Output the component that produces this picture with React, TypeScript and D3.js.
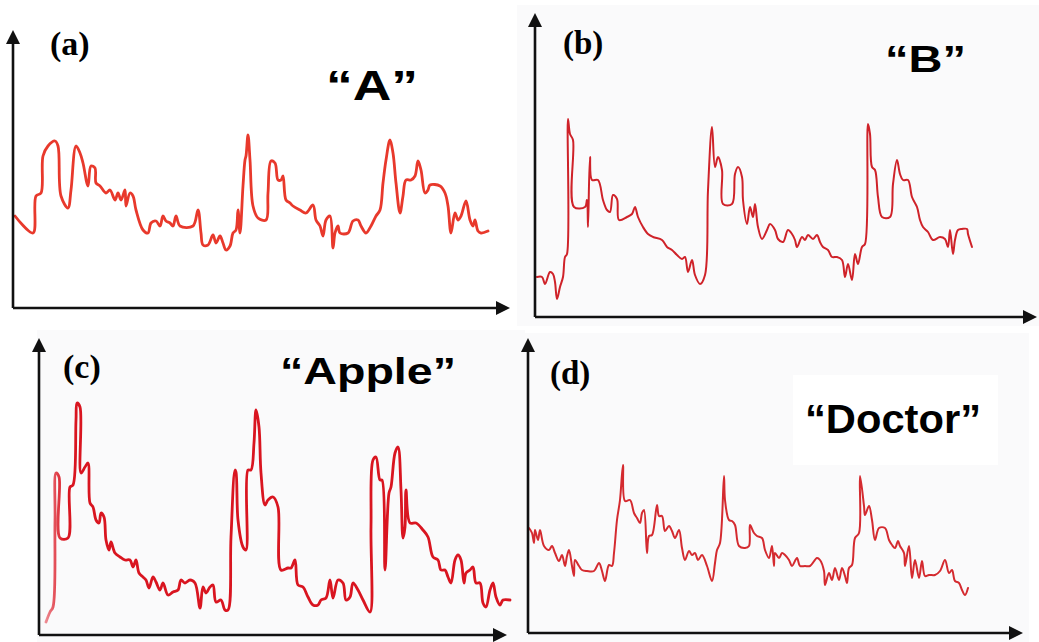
import React from "react";
import * as d3 from "d3";

// [time, amplitude] (a.u.)
const signalA: [number, number][] = [
  [2,92],[20,75],[23,112],[28,115],[30,152],[35,162],[42,167],[45,162],[48,112],[55,100],[58,118],[63,162],[67,155],[70,145],[75,122],[78,142],[82,140],[83,125],[87,122],[93,115],[97,118],[102,108],[105,115],[108,108],[112,118],[113,102],[117,115],[120,112],[123,98],[130,78],[135,75],[138,85],[143,87],[147,82],[150,92],[153,87],[157,85],[160,82],[163,92],[167,82],[180,82],[185,98],[188,75],[190,63],[195,63],[200,73],[203,65],[207,72],[210,65],[213,58],[217,62],[220,75],[223,78],[225,98],[227,75],[230,122],[232,148],[233,152],[235,173],[237,148],[240,102],[245,90],[253,88],[255,115],[258,147],[262,145],[265,128],[268,128],[270,132],[273,108],[277,105],[280,102],[287,98],[293,95],[300,103],[303,88],[307,82],[310,72],[313,88],[317,92],[320,60],[322,75],[325,82],[327,75],[335,75],[340,87],[345,88],[348,82],[353,75],[358,82],[363,92],[367,98],[370,125],[373,148],[377,168],[380,155],[383,125],[387,95],[390,112],[393,128],[398,128],[402,132],[405,147],[408,138],[412,115],[415,118],[417,123],[427,122],[432,115],[435,102],[438,75],[442,95],[445,88],[448,92],[453,107],[457,88],[460,82],[462,88],[465,77],[468,75],[475,77],
];

const signalB: [number, number][] = [
  [2,40],[7,40],[10,33],[15,45],[18,43],[20,35],[22,18],[25,30],[28,40],[30,60],[32,63],[33,198],[35,183],[38,177],[39,110],[50,110],[52,117],[53,90],[55,160],[57,137],[63,137],[68,117],[72,107],[75,105],[78,122],[82,118],[84,97],[92,100],[97,103],[100,110],[103,100],[108,90],[113,83],[118,80],[127,77],[132,70],[137,67],[142,62],[147,58],[150,60],[153,45],[157,57],[160,42],[165,33],[170,42],[173,127],[177,190],[180,150],[183,160],[187,147],[188,113],[197,113],[200,143],[203,150],[207,140],[208,117],[212,93],[215,110],[218,100],[220,113],[223,90],[227,78],[232,87],[235,93],[240,87],[243,78],[248,75],[253,87],[257,83],[260,77],[262,70],[267,80],[270,77],[273,82],[278,78],[282,82],[285,75],[288,70],[293,67],[297,60],[302,60],[307,57],[310,40],[313,53],[317,37],[320,63],[323,53],[327,70],[330,73],[333,193],[335,183],[337,150],[340,147],[343,120],[347,100],[355,100],[358,133],[362,157],[365,143],[368,137],[373,137],[377,120],[382,110],[385,97],[388,90],[393,85],[398,77],[405,80],[410,78],[413,70],[415,87],[418,63],[420,77],[423,87],[427,88],[432,88],[433,83],[437,70],
];

const signalC: [number, number][] = [
  [7,13],[11,23],[14,28],[16,115],[17,162],[20,158],[21,97],[29,97],[31,148],[34,150],[37,215],[38,232],[41,228],[42,162],[46,168],[49,172],[51,132],[54,128],[57,115],[60,112],[62,122],[65,118],[67,95],[70,85],[72,93],[76,82],[81,78],[86,75],[91,75],[94,68],[97,75],[100,62],[104,58],[107,55],[110,47],[114,58],[117,53],[121,45],[124,52],[129,40],[134,43],[139,45],[142,55],[146,52],[151,55],[156,52],[161,27],[164,48],[167,42],[171,48],[174,50],[177,33],[182,35],[186,25],[189,25],[192,98],[196,165],[197,163],[199,115],[204,88],[207,85],[209,165],[212,165],[215,192],[217,225],[220,208],[222,162],[226,130],[229,135],[234,138],[239,128],[242,65],[249,67],[252,67],[256,75],[259,50],[264,48],[269,38],[274,30],[279,30],[282,35],[287,37],[291,55],[294,37],[299,55],[304,52],[307,35],[311,38],[314,52],[319,45],[324,35],[331,23],[332,108],[334,175],[337,178],[341,155],[343,155],[346,65],[350,142],[352,148],[356,182],[359,188],[362,145],[364,97],[366,108],[367,145],[371,112],[377,112],[384,105],[389,98],[394,78],[399,75],[402,65],[406,65],[409,58],[412,52],[416,75],[419,80],[422,75],[425,52],[427,62],[431,65],[434,68],[437,52],[441,52],[444,32],[447,28],[451,45],[454,52],[457,38],[461,30],[464,35],[471,35],
];

const signalD: [number, number][] = [
  [1,105],[4,100],[6,90],[7,103],[10,93],[12,103],[16,87],[21,83],[24,87],[27,80],[31,72],[34,78],[37,67],[39,77],[41,83],[44,67],[46,57],[47,73],[51,67],[54,63],[59,62],[66,62],[71,70],[74,62],[77,52],[81,68],[84,67],[86,80],[89,113],[92,133],[95,168],[97,132],[102,133],[106,120],[109,115],[112,110],[114,120],[116,123],[119,80],[121,97],[124,98],[129,128],[131,117],[134,117],[137,102],[141,107],[144,102],[147,95],[151,103],[154,85],[157,73],[161,82],[164,78],[167,80],[170,73],[174,78],[179,67],[184,52],[187,70],[189,83],[192,90],[196,157],[197,133],[201,113],[204,112],[207,108],[211,87],[217,85],[221,87],[222,108],[226,100],[229,97],[234,95],[237,83],[241,75],[244,87],[246,67],[247,80],[251,75],[254,80],[257,78],[261,73],[264,67],[269,75],[272,67],[277,67],[282,67],[289,75],[292,73],[296,62],[297,48],[301,60],[304,53],[307,65],[311,53],[314,65],[317,57],[319,50],[321,65],[324,68],[327,95],[331,100],[332,157],[336,127],[337,118],[341,127],[344,113],[347,93],[351,105],[357,105],[361,93],[364,88],[367,85],[370,92],[372,87],[376,80],[377,67],[381,87],[384,55],[387,73],[391,55],[394,72],[397,57],[401,58],[407,58],[412,62],[417,73],[421,60],[424,63],[427,52],[431,50],[434,43],[437,38],[440,45],
];

const panelLabels = ["(a)", "(b)", "(c)", "(d)"];
const words = ["\u201cA\u201d", "\u201cB\u201d", "\u201cApple\u201d", "\u201cDoctor\u201d"];

type Panel = {
  data: [number, number][];
  ox: number; oy: number; w: number; h: number;
  color: string; sw: number;
  label: [number, number, number];
  word: [number, number, number, number];
  bg?: [number, number, number, number];
};

const panels: Panel[] = [
  { data: signalA, ox: 13, oy: 308, w: 497, h: 278, color: "#e8392c", sw: 2.8,
    label: [50, 55, 34], word: [326, 100, 43, 92] },
  { data: signalB, ox: 535, oy: 317, w: 502, h: 304, color: "#cf2229", sw: 2,
    label: [563, 54, 33], word: [885, 72, 37, 81] },
  { data: signalC, ox: 39, oy: 635, w: 468, h: 297, color: "#d91520", sw: 2.8,
    label: [63, 378, 34], word: [280, 384, 37, 176] },
  { data: signalD, ox: 528, oy: 633, w: 495, h: 295, color: "#d42a2f", sw: 2,
    label: [550, 384, 33], word: [805, 433, 40, 176] },
];

const backgrounds: [number, number, number, number][] = [
  [517, 5, 522, 321], [37, 330, 488, 312], [521, 333, 508, 309],
];

const Chart = ({ p, i }: { p: Panel; i: number }) => {
  const x = d3.scaleLinear().domain([0, p.w]).range([p.ox, p.ox + p.w]);
  const y = d3.scaleLinear().domain([0, p.h]).range([p.oy, p.oy - p.h]);
  const line = d3.line<[number, number]>()
    .x(d => x(d[0])).y(d => y(d[1]))
    .curve(d3.curveCatmullRom.alpha(0.5));
  const tipX = x(p.w), tipY = y(p.h);
  const stroke = i === 2 ? "url(#fadeC)" : p.color;
  return (
    <g>
      {i === 3 && <rect x={793} y={375} width={205} height={90} fill="#ffffff" />}
      <path d={line(p.data) || ""} fill="none" stroke={stroke} strokeWidth={p.sw}
        strokeLinejoin="round" strokeLinecap="round" />
      <line x1={p.ox} y1={p.oy} x2={p.ox} y2={tipY + 10} stroke="#111" strokeWidth={2.6} />
      <line x1={p.ox} y1={p.oy} x2={tipX - 10} y2={p.oy} stroke="#111" strokeWidth={2.6} />
      <path d={`M${p.ox},${tipY} L${p.ox - 7},${tipY + 14} L${p.ox + 7},${tipY + 14} Z`} fill="#111" />
      <path d={`M${tipX},${p.oy} L${tipX - 14},${p.oy - 7} L${tipX - 14},${p.oy + 7} Z`} fill="#111" />
      <text x={p.label[0]} y={p.label[1]} fontFamily="'Liberation Serif', 'Times New Roman', serif"
        fontWeight="bold" fontSize={p.label[2]} fill="#000">{panelLabels[i]}</text>
      <text x={p.word[0]} y={p.word[1]} fontFamily="'Liberation Sans', Arial, sans-serif"
        fontWeight="bold" fontSize={p.word[2]} fill="#000"
        textLength={p.word[3]} lengthAdjust="spacingAndGlyphs">{words[i]}</text>
    </g>
  );
};

export default function App() {
  return (
    <svg width={1039} height={642} style={{ position: "absolute", left: 0, top: 0, background: "#fff" }}>
      <defs>
        <linearGradient id="fadeC" gradientUnits="userSpaceOnUse" x1={42} y1={0} x2={64} y2={0}>
          <stop offset="0" stopColor="#f2a3aa" />
          <stop offset="1" stopColor="#d91520" />
        </linearGradient>
      </defs>
      {backgrounds.map((b, i) => (
        <rect key={i} x={b[0]} y={b[1]} width={b[2]} height={b[3]} fill="#fafafb" />
      ))}
      {panels.map((p, i) => <Chart key={i} p={p} i={i} />)}
    </svg>
  );
}
